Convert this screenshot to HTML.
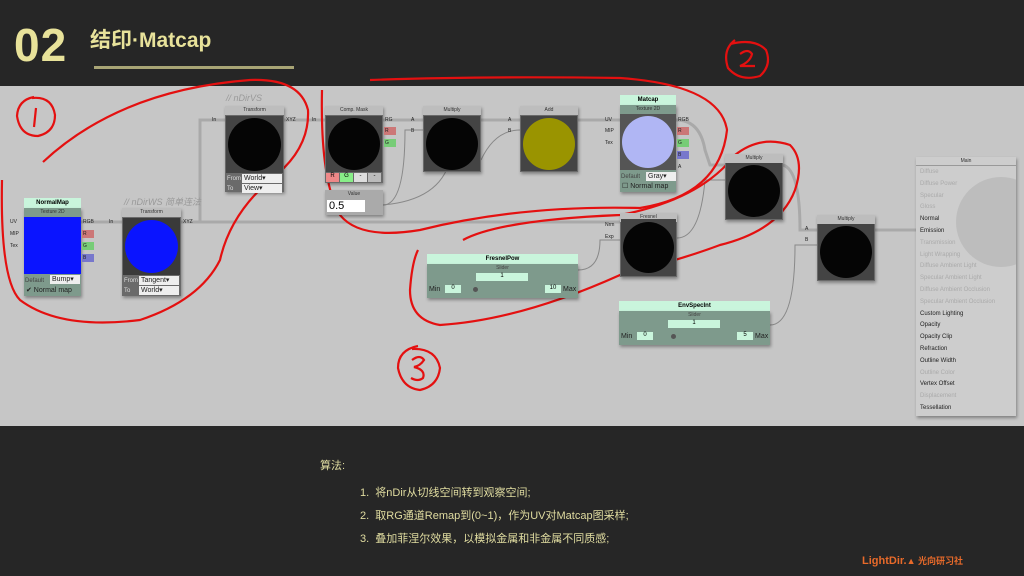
<!DOCTYPE html>
<html><head><meta charset="utf-8"><style>
*{margin:0;padding:0;box-sizing:border-box}
body{width:1024px;height:576px;overflow:hidden;background:#262626;font-family:"Liberation Sans","Noto Sans CJK SC",sans-serif;position:relative}
.a{position:absolute}
.panel{left:0;top:86px;width:1024px;height:340px;background:#c6c6c6}
.node{position:absolute;background:#6a6a6a;box-shadow:1px 2px 3px rgba(0,0,0,.35)}
.hd{position:absolute;left:0;right:0;top:0;height:9px;background:#bdbdbd;font-size:5px;text-align:center;line-height:9px;color:#333}
.prev{position:absolute;background:#3a3a3a}
.circ{position:absolute;border-radius:50%}
.lbl{position:absolute;font-size:6px;color:#444}
.pin{position:absolute;height:8px;width:12px;font-size:5px;line-height:8px;color:#222;padding-left:1px}
.dd{position:absolute;background:#eee;font-size:7px;line-height:9px;height:9px;padding-left:2px;color:#222}
.mint{background:#c9f5dc}
.gr{background:#7e9a8c}
</style></head><body>
<div class="a panel"></div>
<div class="a" style="left:14px;top:20px;font-size:46px;font-weight:bold;color:#e8e29a;line-height:50px;letter-spacing:1px">02</div>
<div class="a" style="left:90px;top:24px;font-size:21px;font-weight:bold;color:#e8e29a">结印·Matcap</div>
<div class="a" style="left:94px;top:66px;width:200px;height:3px;background:#c9c48a;opacity:.8"></div>

<svg class="a" style="left:0;top:0" width="1024" height="576">
<g stroke="#a9a9a9" stroke-width="3" fill="none">
<path d="M81 222 H122"/><path d="M181 222 H200 V120 H225"/><path d="M181 222 H620"/>
<path d="M284 120 H325"/><path d="M383 120 H423"/><path d="M481 120 H520"/>
<path d="M578 120 H620"/><path d="M676 120 Q700 120 705 150 L710 165 H725"/>
<path d="M783 165 Q800 170 800 230 H817"/><path d="M875 230 H916"/>
</g>
<g stroke="#888" stroke-width="1" fill="none">
<path d="M383 205 Q405 205 405 130 H423"/><path d="M383 205 Q440 200 450 160"/>
<path d="M481 160 Q495 130 520 130"/><path d="M578 270 Q600 270 600 240 H620"/>
<path d="M770 325 Q795 325 795 245 H817"/><path d="M677 238 Q700 238 705 180 H725"/>
</g>
<g stroke="#e41010" stroke-width="2.2" fill="none">
<path d="M34 97 Q18 100 17 116 Q20 136 38 136 Q55 132 55 115 Q52 96 32 98"/>
<path d="M36 108 L34 127"/>
<path d="M43 162 Q120 90 250 80 Q300 78 308 110 Q310 150 270 180 Q230 215 220 260 Q200 300 140 320 Q60 330 20 300 Q0 280 2 180"/>
<path d="M322 90 Q320 180 340 215 Q360 240 420 230 Q520 205 640 208 Q720 195 727 130 Q720 85 620 78 Q480 76 370 80"/>
<path d="M735 40 Q722 50 728 68 Q740 82 760 76 Q772 65 766 50 Q755 38 730 44"/>
<path d="M740 54 Q748 48 752 54 Q750 62 740 66 L755 66"/>
<path d="M463 240 Q500 220 620 215 Q700 200 735 155 Q760 135 790 145 Q805 160 795 190 Q780 230 720 245 Q680 260 620 275 Q520 320 440 325 Q410 320 410 290 Q412 262 418 250"/>
<path d="M418 346 Q398 350 398 368 Q402 388 420 390 Q438 386 440 368 Q436 348 412 349"/>
<path d="M412 360 Q420 354 424 360 Q420 366 414 367 Q426 370 423 378 Q418 382 411 378"/>
</g>
</svg>

<div class="a mint" style="left:24px;top:198px;width:57px;height:10px;font-size:6px;font-weight:bold;text-align:center;line-height:10px">NormalMap</div>
<div class="node gr" style="left:24px;top:208px;width:57px;height:88px"><div class="hd" style="background:#7e9a8c;height:8px;line-height:8px">Texture 2D</div>
<div class="prev" style="left:0;top:9px;width:57px;height:57px;background:#0a14ff"></div>
<div class="lbl" style="left:1px;top:70px">Default</div><div class="dd" style="left:26px;top:67px;width:30px">Bump▾</div>
<div class="lbl" style="left:2px;top:78px;font-size:7px;color:#222">✔ Normal map</div></div>
<div class="pin" style="left:9px;top:218px">UV</div><div class="pin" style="left:9px;top:230px">MIP</div><div class="pin" style="left:9px;top:242px">Tex</div>
<div class="pin" style="left:82px;top:218px">RGB</div><div class="pin" style="left:82px;top:230px;background:#c77">R</div><div class="pin" style="left:82px;top:242px;background:#7c7">G</div><div class="pin" style="left:82px;top:254px;background:#77c">B</div>

<div class="a" style="left:124px;top:195px;font-size:9px;font-style:italic;color:#999">// nDirWS 简单连法</div>
<div class="node" style="left:122px;top:208px;width:59px;height:88px"><div class="hd">Transform</div>
<div class="prev" style="left:1px;top:10px;width:57px;height:57px"><div class="circ" style="left:2px;top:2px;width:53px;height:53px;background:#0a14ff"></div></div>
<div class="lbl" style="left:2px;top:70px;color:#ddd">From</div><div class="dd" style="left:17px;top:68px;width:40px">Tangent▾</div>
<div class="lbl" style="left:2px;top:80px;color:#ddd">To</div><div class="dd" style="left:17px;top:78px;width:40px">World▾</div></div>
<div class="pin" style="left:108px;top:218px">In</div><div class="pin" style="left:182px;top:218px">XYZ</div>

<div class="a" style="left:226px;top:93px;font-size:9px;font-style:italic;color:#999">// nDirVS</div>
<div class="node" style="left:225px;top:106px;width:59px;height:86px"><div class="hd">Transform</div>
<div class="prev" style="left:1px;top:10px;width:57px;height:57px;background:#444"><div class="circ" style="left:2px;top:2px;width:53px;height:53px;background:#050505"></div></div>
<div class="lbl" style="left:2px;top:70px;color:#ddd">From</div><div class="dd" style="left:17px;top:68px;width:40px">World▾</div>
<div class="lbl" style="left:2px;top:80px;color:#ddd">To</div><div class="dd" style="left:17px;top:78px;width:40px">View▾</div></div>
<div class="pin" style="left:211px;top:116px">In</div><div class="pin" style="left:285px;top:116px">XYZ</div>

<div class="node" style="left:325px;top:106px;width:58px;height:77px"><div class="hd">Comp. Mask</div>
<div class="prev" style="left:1px;top:10px;width:56px;height:56px;background:#444"><div class="circ" style="left:2px;top:2px;width:52px;height:52px;background:#050505"></div></div>
<div class="a" style="left:1px;top:67px;width:13px;height:9px;background:#e88;font-size:6px;text-align:center">R</div>
<div class="a" style="left:15px;top:67px;width:13px;height:9px;background:#8e8;font-size:6px;text-align:center">G</div>
<div class="a" style="left:29px;top:67px;width:13px;height:9px;background:#ddd;font-size:6px;text-align:center">-</div>
<div class="a" style="left:43px;top:67px;width:13px;height:9px;background:#bbb;font-size:6px;text-align:center">-</div></div>
<div class="pin" style="left:311px;top:116px">In</div><div class="pin" style="left:384px;top:116px">RG</div><div class="pin" style="left:384px;top:127px;background:#c77">R</div><div class="pin" style="left:384px;top:139px;background:#7c7">G</div>
<div class="node" style="left:325px;top:190px;width:58px;height:25px;background:#aaa"><div class="hd" style="background:#aaa">Value</div><div class="a" style="left:2px;top:10px;width:38px;height:12px;background:#fff;font-size:11px;line-height:12px;padding-left:2px">0.5</div></div>

<div class="node" style="left:423px;top:106px;width:58px;height:66px"><div class="hd">Multiply</div>
<div class="prev" style="left:1px;top:10px;width:56px;height:55px;background:#444"><div class="circ" style="left:2px;top:2px;width:52px;height:52px;background:#050505"></div></div></div>
<div class="pin" style="left:410px;top:116px">A</div><div class="pin" style="left:410px;top:127px">B</div>
<div class="node" style="left:520px;top:106px;width:58px;height:66px"><div class="hd">Add</div>
<div class="prev" style="left:1px;top:10px;width:56px;height:55px;background:#444"><div class="circ" style="left:2px;top:2px;width:52px;height:52px;background:#9a9400"></div></div></div>
<div class="pin" style="left:507px;top:116px">A</div><div class="pin" style="left:507px;top:127px">B</div>

<div class="a mint" style="left:620px;top:95px;width:56px;height:10px;font-size:6px;font-weight:bold;text-align:center;line-height:10px">Matcap</div>
<div class="node gr" style="left:620px;top:105px;width:56px;height:87px"><div class="hd" style="background:#7e9a8c;height:8px;line-height:8px">Texture 2D</div>
<div class="prev" style="left:0;top:9px;width:56px;height:56px;background:#555"><div class="circ" style="left:2px;top:2px;width:52px;height:52px;background:#b0b6f4"></div></div>
<div class="lbl" style="left:1px;top:69px">Default</div><div class="dd" style="left:26px;top:67px;width:30px">Gray▾</div>
<div class="lbl" style="left:2px;top:77px;font-size:7px;color:#222">☐ Normal map</div></div>
<div class="pin" style="left:604px;top:116px">UV</div><div class="pin" style="left:604px;top:127px">MIP</div><div class="pin" style="left:604px;top:139px">Tex</div>
<div class="pin" style="left:677px;top:116px">RGB</div><div class="pin" style="left:677px;top:127px;background:#c77">R</div><div class="pin" style="left:677px;top:139px;background:#7c7">G</div><div class="pin" style="left:677px;top:151px;background:#77c">B</div><div class="pin" style="left:677px;top:163px">A</div>

<div class="node" style="left:620px;top:213px;width:57px;height:64px"><div class="hd">Fresnel</div>
<div class="prev" style="left:1px;top:6px;width:55px;height:57px;background:#444"><div class="circ" style="left:2px;top:3px;width:51px;height:51px;background:#050505"></div></div></div>
<div class="pin" style="left:604px;top:221px">Nrm</div><div class="pin" style="left:604px;top:233px">Exp</div>

<div class="a mint" style="left:427px;top:254px;width:151px;height:10px;font-size:6px;font-weight:bold;text-align:center;line-height:10px">FresnelPow</div>
<div class="node gr" style="left:427px;top:264px;width:151px;height:34px"><div class="lbl" style="left:0;right:0;top:1px;text-align:center;font-size:5px">Slider</div>
<div class="a mint" style="left:49px;top:9px;width:52px;height:8px;font-size:6px;text-align:center">1</div>
<div class="lbl" style="left:2px;top:22px;font-size:7px;color:#222">Min</div><div class="a mint" style="left:18px;top:21px;width:16px;height:8px;font-size:6px;text-align:center">0</div>
<div class="circ" style="left:46px;top:23px;width:5px;height:5px;background:#555"></div>
<div class="a mint" style="left:118px;top:21px;width:16px;height:8px;font-size:6px;text-align:center">10</div><div class="lbl" style="left:136px;top:22px;font-size:7px;color:#222">Max</div></div>

<div class="a mint" style="left:619px;top:301px;width:151px;height:10px;font-size:6px;font-weight:bold;text-align:center;line-height:10px">EnvSpecInt</div>
<div class="node gr" style="left:619px;top:311px;width:151px;height:34px"><div class="lbl" style="left:0;right:0;top:1px;text-align:center;font-size:5px">Slider</div>
<div class="a mint" style="left:49px;top:9px;width:52px;height:8px;font-size:6px;text-align:center">1</div>
<div class="lbl" style="left:2px;top:22px;font-size:7px;color:#222">Min</div><div class="a mint" style="left:18px;top:21px;width:16px;height:8px;font-size:6px;text-align:center">0</div>
<div class="circ" style="left:52px;top:23px;width:5px;height:5px;background:#555"></div>
<div class="a mint" style="left:118px;top:21px;width:16px;height:8px;font-size:6px;text-align:center">5</div><div class="lbl" style="left:136px;top:22px;font-size:7px;color:#222">Max</div></div>

<div class="node" style="left:725px;top:154px;width:58px;height:66px"><div class="hd">Multiply</div>
<div class="prev" style="left:1px;top:9px;width:56px;height:56px;background:#444"><div class="circ" style="left:2px;top:2px;width:52px;height:52px;background:#050505"></div></div></div>
<div class="node" style="left:817px;top:215px;width:58px;height:66px"><div class="hd">Multiply</div>
<div class="prev" style="left:1px;top:9px;width:56px;height:56px;background:#444"><div class="circ" style="left:2px;top:2px;width:52px;height:52px;background:#050505"></div></div></div>
<div class="pin" style="left:804px;top:225px">A</div><div class="pin" style="left:804px;top:236px">B</div>

<div class="node" style="left:916px;top:157px;width:100px;height:259px;background:#cdcdcd;overflow:hidden">
<div class="hd" style="background:#cdcdcd;border-bottom:1px solid #999">Main</div>
<div class="circ" style="left:40px;top:20px;width:90px;height:90px;background:#bdbdbd"></div>
<div style="position:absolute;left:4px;top:10px;font-size:6px;line-height:11.8px;color:#aaa">
Diffuse<br>Diffuse Power<br>Specular<br>Gloss<br><span style="color:#222">Normal</span><br><span style="color:#222">Emission</span><br>Transmission<br>Light Wrapping<br>Diffuse Ambient Light<br>Specular Ambient Light<br>Diffuse Ambient Occlusion<br>Specular Ambient Occlusion<br><span style="color:#222">Custom Lighting</span><br><span style="color:#222">Opacity</span><br><span style="color:#222">Opacity Clip</span><br><span style="color:#222">Refraction</span><br><span style="color:#222">Outline Width</span><br>Outline Color<br><span style="color:#222">Vertex Offset</span><br>Displacement<br><span style="color:#222">Tessellation</span></div></div>

<div class="a" style="left:320px;top:457px;font-size:11px;color:#e0dca0">算法:</div>
<div class="a" style="left:360px;top:482px;font-size:11px;color:#e0dca0;line-height:23px">1.&nbsp;&nbsp;将nDir从切线空间转到观察空间;<br>2.&nbsp;&nbsp;取RG通道Remap到(0~1)，作为UV对Matcap图采样;<br>3.&nbsp;&nbsp;叠加菲涅尔效果，以模拟金属和非金属不同质感;</div>
<div class="a" style="left:862px;top:554px;font-size:11px;font-weight:bold;color:#e86a2a">LightDir.<span style="font-size:9px">▲ 光向研习社</span></div>
</body></html>
